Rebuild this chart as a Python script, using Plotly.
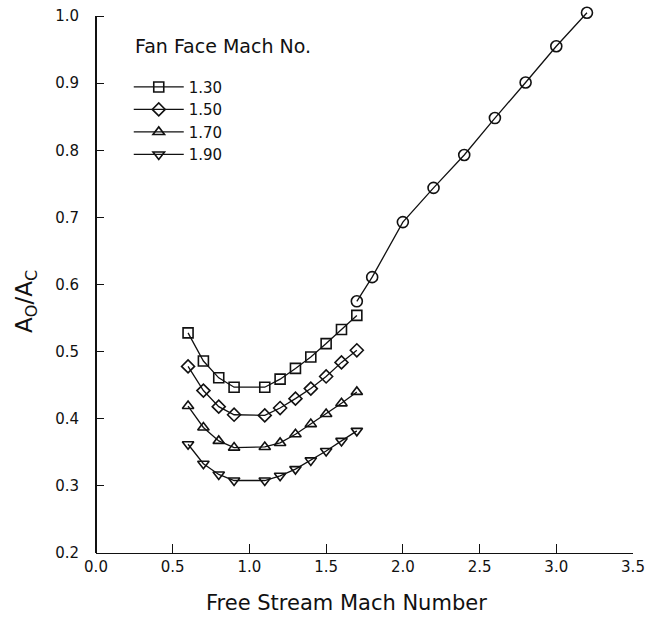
import plotly.graph_objects as go

# ---- data ----
mach_low = [0.6, 0.7, 0.8, 0.9, 1.1, 1.2, 1.3, 1.4, 1.5, 1.6, 1.7]
ratio_130 = [0.528, 0.486, 0.461, 0.447, 0.447, 0.459, 0.475, 0.492, 0.512, 0.533, 0.554]
ratio_150 = [0.478, 0.442, 0.418, 0.406, 0.405, 0.416, 0.430, 0.445, 0.463, 0.484, 0.502]
ratio_170 = [0.419, 0.387, 0.367, 0.357, 0.358, 0.364, 0.377, 0.392, 0.407, 0.423, 0.440]
ratio_190 = [0.362, 0.333, 0.317, 0.308, 0.308, 0.315, 0.325, 0.338, 0.352, 0.367, 0.382]

mach_high = [1.7, 1.8, 2.0, 2.2, 2.4, 2.6, 2.8, 3.0, 3.2]
ratio_high = [0.575, 0.611, 0.693, 0.744, 0.793, 0.848, 0.901, 0.955, 1.005]

series_names = ["1.30", "1.50", "1.70", "1.90"]
series_values = [ratio_130, ratio_150, ratio_170, ratio_190]
series_symbols = ["square-open", "diamond-open", "triangle-up-open", "triangle-down-open"]

x_ticks = [0.0, 0.5, 1.0, 1.5, 2.0, 2.5, 3.0, 3.5]
y_ticks = [0.2, 0.3, 0.4, 0.5, 0.6, 0.7, 0.8, 0.9, 1.0]

FONT = "'DejaVu Sans', sans-serif"
INK = "#111111"

fig = go.Figure()
for name, vals, sym in zip(series_names, series_values, series_symbols):
    fig.add_trace(go.Scatter(
        x=mach_low, y=vals, name=name, mode="lines+markers",
        line=dict(color=INK, width=1.3),
        marker=dict(symbol=sym, size=10, color=INK, line=dict(width=1.6, color=INK)),
        cliponaxis=False,
    ))

fig.add_trace(go.Scatter(
    x=mach_high, y=ratio_high, name="", mode="lines+markers", showlegend=False,
    line=dict(color=INK, width=1.3),
    marker=dict(symbol="circle-open", size=11, color=INK, line=dict(width=1.6, color=INK)),
    cliponaxis=False,
))

fig.update_layout(
    width=652, height=638,
    margin=dict(l=96, r=16, t=7, b=85),
    paper_bgcolor="white", plot_bgcolor="white",
    font=dict(family=FONT, color=INK, size=15),
    legend=dict(
        x=0.061, y=0.885, xanchor="left", yanchor="top",
        bgcolor="rgba(0,0,0,0)", font=dict(size=15, family=FONT, color=INK),
        itemwidth=50, tracegroupgap=0,
    ),
    xaxis=dict(
        range=[0, 3.5], tickvals=x_ticks, ticktext=[f"{v:.1f}" for v in x_ticks],
        showgrid=False, zeroline=False, showline=True, linecolor=INK, linewidth=1,
        ticks="inside", ticklen=9, tickwidth=1.2, tickcolor=INK,
        tickfont=dict(size=15, family=FONT, color=INK),
    ),
    yaxis=dict(
        range=[0.2, 1.012], tickvals=y_ticks, ticktext=[f"{v:.1f}" for v in y_ticks],
        showgrid=False, zeroline=False, showline=False,
        ticks="inside", ticklen=8, tickwidth=1.2, tickcolor=INK,
        tickfont=dict(size=15, family=FONT, color=INK),
        ticklabelstandoff=16,
    ),
    shapes=[
        dict(type="line", xref="paper", yref="y", x0=0, x1=0, y0=0.2, y1=1.0,
             line=dict(color=INK, width=2)),
    ],
    annotations=[
        dict(text="Fan Face Mach No.", xref="paper", yref="paper",
             x=0.068, y=0.930, xanchor="left", yanchor="middle", showarrow=False,
             font=dict(size=19, family=FONT, color=INK)),
        dict(text="Free Stream Mach Number", xref="paper", yref="paper",
             x=0.467, y=-0.092, xanchor="center", yanchor="middle", showarrow=False,
             font=dict(size=21, family=FONT, color=INK)),
        dict(text="A<sub>O</sub>/A<sub>C</sub>", xref="paper", yref="paper",
             x=-0.13, y=0.461, xanchor="center", yanchor="middle", showarrow=False,
             textangle=-90, font=dict(size=23, family=FONT, color=INK)),
    ],
)

fig.write_html("out.html")
